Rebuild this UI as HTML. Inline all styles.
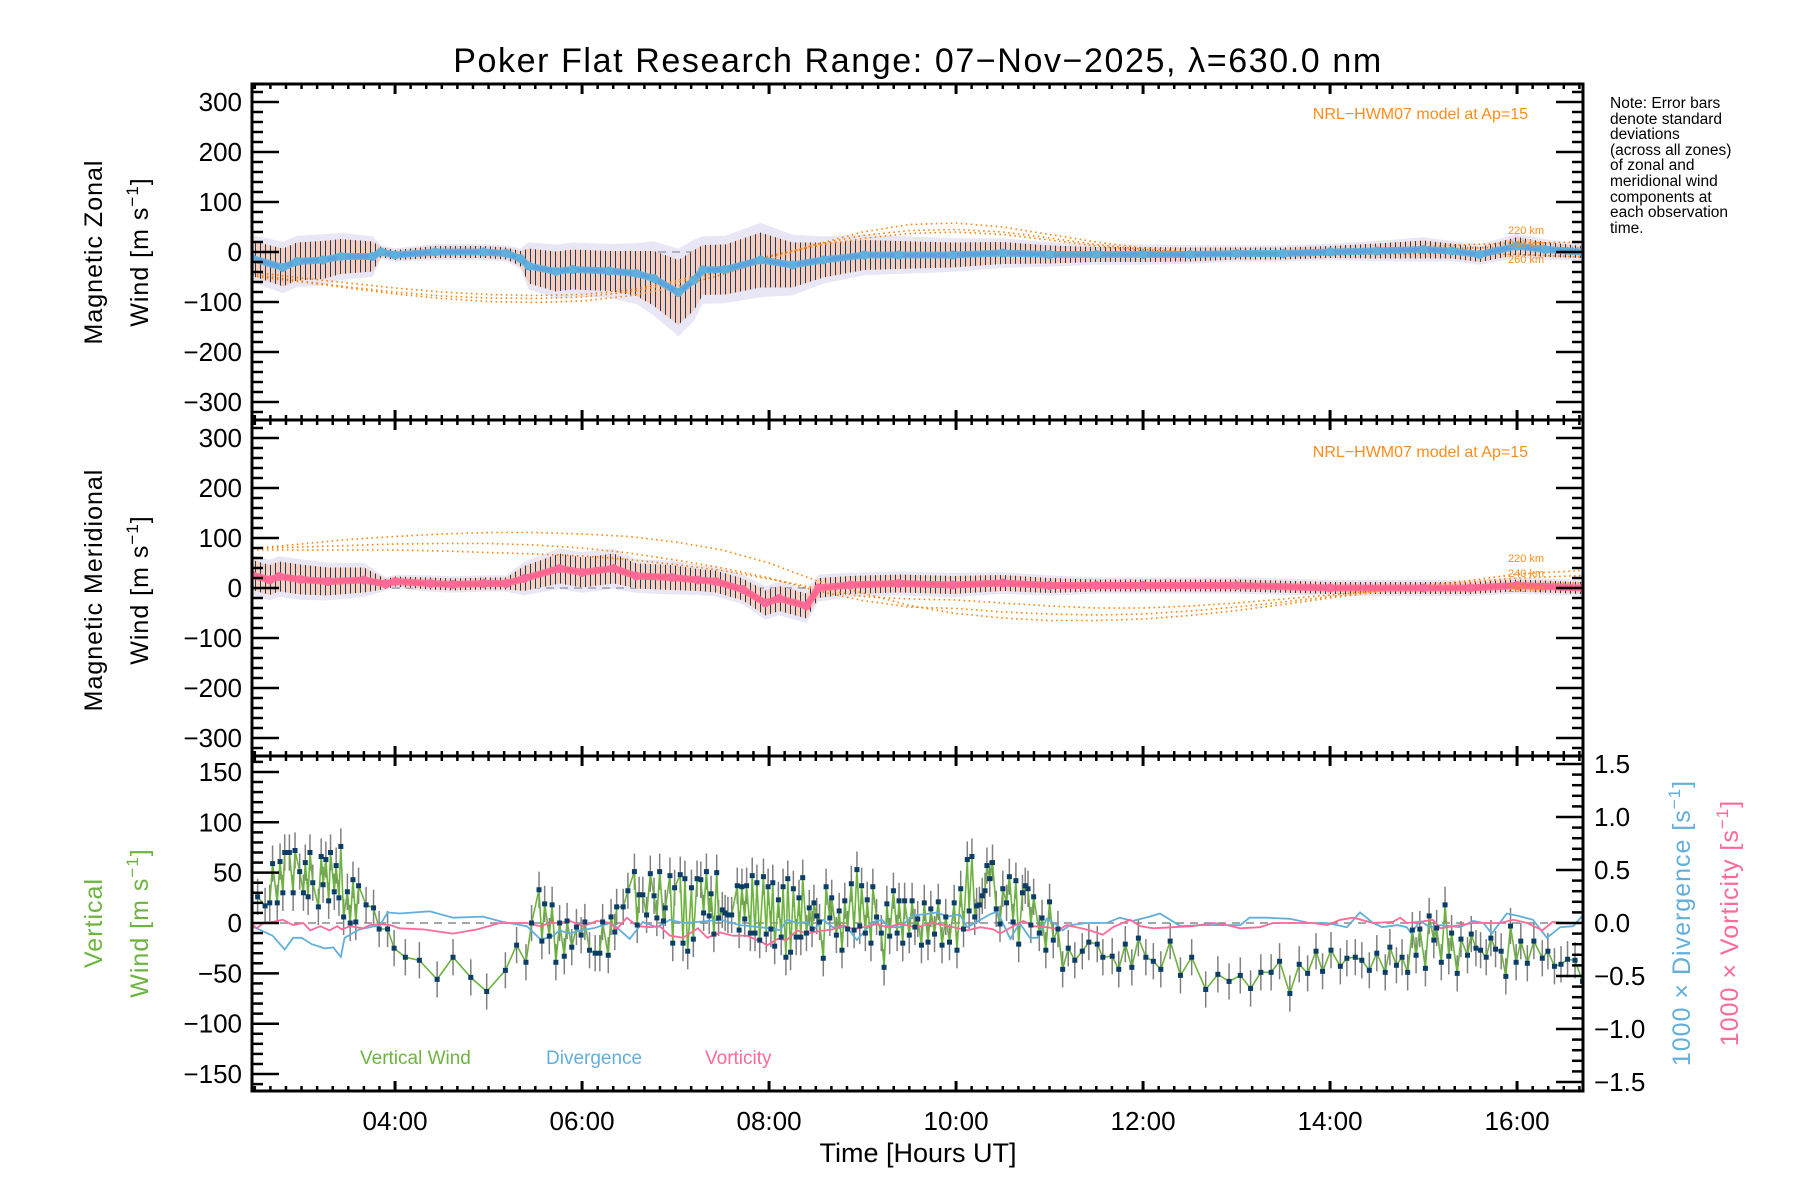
<!DOCTYPE html>
<html><head><meta charset="utf-8">
<style>
html,body{margin:0;padding:0;background:#fff;}
svg{display:block;font-family:"Liberation Sans",sans-serif;}
</style></head>
<body>
<svg id="chart" width="1800" height="1200" viewBox="0 0 1800 1200" xmlns="http://www.w3.org/2000/svg">
<defs>
<pattern id="hatchZ" patternUnits="userSpaceOnUse" width="5" height="10">
<rect width="5" height="10" fill="#f8cdbb"/><rect x="0" width="1" height="10" fill="#1a3f66"/>
</pattern>
<pattern id="hatchM" patternUnits="userSpaceOnUse" width="5" height="10">
<rect width="5" height="10" fill="#f9d0be"/><rect x="0" width="1" height="10" fill="#1a3f66"/>
</pattern>
<clipPath id="clip1"><rect x="252" y="84" width="1331" height="336"/></clipPath>
<clipPath id="clip2"><rect x="252" y="420" width="1331" height="336"/></clipPath>
<clipPath id="clip3"><rect x="252" y="756" width="1331" height="335"/></clipPath>
</defs>
<text x="918" y="72" font-size="34" letter-spacing="1.6" text-anchor="middle">Poker Flat Research Range: 07−Nov−2025, λ=630.0 nm</text>
<g id="g1" clip-path="url(#clip1)"></g>
<g id="g2" clip-path="url(#clip2)"></g>
<g id="g3" clip-path="url(#clip3)"></g>
<g id="axes"></g>
<g font-size="25">
<text transform="translate(102,252) rotate(-90)" text-anchor="middle" letter-spacing="1">Magnetic Zonal</text>
<text transform="translate(148,252) rotate(-90)" text-anchor="middle" letter-spacing="1">Wind [m s<tspan dy="-10" font-size="17">−1</tspan><tspan dy="10">]</tspan></text>
</g>
<g font-size="25">
<text transform="translate(102,590) rotate(-90)" text-anchor="middle" letter-spacing="1">Magnetic Meridional</text>
<text transform="translate(148,590) rotate(-90)" text-anchor="middle" letter-spacing="1">Wind [m s<tspan dy="-10" font-size="17">−1</tspan><tspan dy="10">]</tspan></text>
</g>
<g font-size="25" fill="#6db33f">
<text transform="translate(102,923) rotate(-90)" text-anchor="middle" letter-spacing="1">Vertical</text>
<text transform="translate(148,923) rotate(-90)" text-anchor="middle" letter-spacing="1">Wind [m s<tspan dy="-10" font-size="17">−1</tspan><tspan dy="10">]</tspan></text>
</g>
<text transform="translate(1690,923) rotate(-90)" text-anchor="middle" font-size="25" letter-spacing="1" fill="#63afdc">1000 × Divergence [s<tspan dy="-10" font-size="17">−1</tspan><tspan dy="10">]</tspan></text>
<text transform="translate(1738,923) rotate(-90)" text-anchor="middle" font-size="25" letter-spacing="1" fill="#ff6a98">1000 × Vorticity [s<tspan dy="-10" font-size="17">−1</tspan><tspan dy="10">]</tspan></text>
<g font-size="15.5">
<text x="1610" y="108">Note: Error bars</text>
<text x="1610" y="124">denote standard</text>
<text x="1610" y="139">deviations</text>
<text x="1610" y="155">(across all zones)</text>
<text x="1610" y="170">of zonal and</text>
<text x="1610" y="186">meridional wind</text>
<text x="1610" y="202">components at</text>
<text x="1610" y="217">each observation</text>
<text x="1610" y="233">time.</text>
</g>
<text x="1528" y="119" font-size="16" fill="#ff8c1a" text-anchor="end">NRL−HWM07 model at Ap=15</text>
<text x="1528" y="457" font-size="16" fill="#ff8c1a" text-anchor="end">NRL−HWM07 model at Ap=15</text>
<g font-size="11" fill="#ff8c1a">
<text x="1508" y="234">220 km</text><text x="1508" y="248">240 km</text><text x="1508" y="263">260 km</text>
</g>
<g font-size="11" fill="#ff8c1a">
<text x="1508" y="562">220 km</text><text x="1508" y="577">240 km</text><text x="1508" y="592">260 km</text>
</g>
<text x="360" y="1064" font-size="19" fill="#6db33f">Vertical Wind</text>
<text x="546" y="1064" font-size="19" fill="#63afdc">Divergence</text>
<text x="705" y="1064" font-size="19" fill="#ff6a98">Vorticity</text>
<text x="918" y="1162" font-size="27" text-anchor="middle">Time [Hours UT]</text>
</svg>
<script>
// ---- data ----
const xTickHours = [4,6,8,10,12,14,16];
const xTickLabels = ["04:00","06:00","08:00","10:00","12:00","14:00","16:00"];
const windTicks = [300,200,100,0,-100,-200,-300];
const vertTicks = [150,100,50,0,-50,-100,-150];
const rightTicks = [1.5,1.0,0.5,0.0,-0.5,-1.0,-1.5];

const zonalHours = [2.47,2.80,2.95,3.23,3.42,3.76,3.85,4.00,4.43,4.95,5.19,5.34,5.43,5.72,5.90,6.29,6.58,6.77,7.03,7.20,7.29,7.53,7.91,8.25,8.58,9.02,9.39,9.96,10.5,11.0,11.5,12.0,12.5,13.0,13.5,14.0,14.5,15.0,15.3,15.6,16.0,16.3,16.7];
const zonalMean = [-13,-31,-19,-16,-9,-9,0,-6,0,0,-3,-13,-28,-39,-35,-38,-43,-53,-81,-56,-36,-35,-16,-26,-16,-6,-6,-6,-2,-5,-5,-5,-5,-3,-3,0,2,5,2,-5,12,5,0];
const zonalStd = [35,38,38,38,35,30,10,10,12,12,12,15,35,40,40,40,45,55,65,60,50,50,55,45,35,30,28,25,22,18,15,15,14,12,12,12,15,18,15,15,18,15,12];

const merHours = [2.47,2.66,2.76,2.99,3.28,3.67,3.90,4.00,4.38,4.62,4.95,5.19,5.38,5.76,6.00,6.34,6.58,6.96,7.24,7.43,7.72,7.96,8.11,8.40,8.53,8.87,9.39,9.96,10.5,11.0,11.5,12.0,13.0,14.0,15.0,15.5,16.0,16.7];
const merMean = [26,16,23,17,13,16,8,13,9,7,9,9,19,39,31,39,24,21,16,13,-3,-30,-21,-36,0,6,9,6,10,5,5,5,5,0,0,0,5,0];
const merStd = [30,30,30,30,28,25,10,10,12,12,12,12,25,30,30,30,25,25,22,22,22,25,25,25,20,18,18,18,16,15,12,12,12,12,12,12,12,12];

const modelHours = [2.47,3,3.5,4,4.5,5,5.5,6,6.5,7,7.5,8,8.5,9,9.5,10,10.5,11,11.5,12,12.5,13,13.5,14,14.5,15,15.5,16,16.7];
const zonalModel220 = [-48,-60,-72,-84,-93,-99,-101,-98,-88,-70,-45,-15,15,40,55,58,50,35,20,8,0,-3,-2,2,6,10,15,18,20];
const zonalModel240 = [-45,-58,-70,-80,-88,-92,-93,-90,-80,-62,-38,-10,15,33,43,45,40,28,15,5,-2,-4,-4,-1,2,5,8,10,8];
const zonalModel260 = [-40,-52,-62,-72,-80,-85,-87,-85,-76,-58,-34,-8,12,27,37,40,35,24,12,2,-5,-8,-8,-6,-4,-3,-3,-5,-10];
const merModel220 = [79,88,97,103,108,111,111,108,103,92,76,50,15,-10,-35,-51,-60,-65,-65,-62,-55,-45,-33,-20,-8,5,15,28,35];
const merModel240 = [79,82,85,88,89,89,86,80,70,56,40,20,-5,-25,-38,-41,-48,-52,-54,-52,-46,-38,-28,-17,-7,3,12,20,25];
const merModel260 = [76,76,76,76,74,71,68,64,57,47,35,18,0,-17,-22,-24,-30,-36,-40,-40,-36,-30,-22,-14,-6,0,5,9,10];

const vwHours = [2.53,2.61,2.66,2.69,2.74,2.77,2.80,2.82,2.87,2.91,2.93,2.98,3.02,3.04,3.07,3.09,3.12,3.18,3.21,3.23,3.26,3.29,3.31,3.35,3.37,3.40,3.42,3.45,3.49,3.52,3.55,3.58,3.61,3.69,3.77,3.83,3.92,3.99,4.11,4.26,4.45,4.62,4.81,4.98,5.18,5.30,5.40,5.46,5.54,5.57,5.60,5.65,5.68,5.72,5.76,5.81,5.84,5.89,5.94,5.99,6.03,6.08,6.14,6.19,6.22,6.28,6.31,6.35,6.37,6.44,6.49,6.56,6.59,6.61,6.65,6.69,6.73,6.77,6.80,6.83,6.87,6.89,6.94,6.97,6.99,7.05,7.08,7.10,7.13,7.17,7.19,7.23,7.27,7.30,7.33,7.36,7.38,7.41,7.44,7.46,7.50,7.53,7.56,7.60,7.66,7.68,7.71,7.74,7.76,7.80,7.82,7.85,7.87,7.90,7.94,7.97,7.99,8.02,8.04,8.06,8.10,8.13,8.15,8.18,8.20,8.23,8.26,8.29,8.32,8.34,8.36,8.40,8.43,8.46,8.48,8.51,8.54,8.58,8.61,8.65,8.67,8.72,8.75,8.78,8.81,8.84,8.88,8.91,8.94,8.97,8.99,9.03,9.05,9.09,9.11,9.15,9.20,9.23,9.26,9.29,9.33,9.37,9.39,9.43,9.45,9.50,9.53,9.56,9.59,9.63,9.66,9.70,9.73,9.77,9.81,9.85,9.89,9.93,9.98,10.01,10.05,10.08,10.12,10.14,10.17,10.20,10.22,10.25,10.28,10.31,10.33,10.36,10.39,10.43,10.47,10.50,10.54,10.57,10.61,10.64,10.67,10.71,10.74,10.77,10.80,10.83,10.89,10.92,10.96,11.00,11.04,11.09,11.14,11.20,11.27,11.35,11.42,11.51,11.57,11.67,11.74,11.81,11.88,11.95,12.03,12.11,12.19,12.29,12.40,12.52,12.67,12.80,12.92,13.04,13.15,13.26,13.37,13.46,13.57,13.67,13.76,13.85,13.92,14.01,14.11,14.18,14.27,14.34,14.42,14.50,14.59,14.64,14.71,14.77,14.83,14.88,14.92,14.96,15.02,15.06,15.11,15.14,15.19,15.23,15.27,15.30,15.36,15.40,15.47,15.51,15.56,15.61,15.67,15.72,15.77,15.83,15.88,15.93,15.99,16.04,16.11,16.18,16.27,16.33,16.40,16.47,16.54,16.62,16.70];
const vwValues = [26,17,20,59,20,61,30,70,70,30,72,51,30,60,26,70,40,16,66,38,63,22,70,31,57,25,76,6,31,0,43,1,37,18,15,-6,-6,-25,-34,-37,-56,-34,-54,-68,-47,-22,-39,0,33,-18,19,-13,18,-39,0,-33,2,-24,-4,-12,1,-27,-30,-30,1,-32,6,-9,16,16,32,51,-2,28,28,8,49,27,5,51,2,15,47,-20,35,48,-20,44,-28,35,-16,44,43,10,51,7,29,-11,50,5,13,10,8,8,37,-7,36,4,37,-10,47,-10,40,-17,46,-11,36,-6,40,-23,23,-14,36,-34,44,-29,34,-14,25,-14,45,-10,15,-6,20,7,1,-35,36,5,25,-12,12,-27,22,-6,39,-7,53,-3,37,-10,23,-20,36,6,-10,-44,19,-13,32,-10,22,-20,22,-12,22,-4,4,-22,20,-19,14,-11,21,-22,6,-19,20,-27,34,-6,63,12,66,6,17,18,27,32,57,44,60,14,-1,34,20,46,1,42,-21,30,37,34,-2,26,-10,5,-27,21,-17,-6,-46,-25,-37,-28,-19,-21,-34,-33,-46,-21,-44,-15,-34,-38,-46,-18,-52,-34,-66,-51,-58,-52,-65,-49,-49,-38,-70,-41,-50,-28,-48,-27,-43,-35,-34,-37,-47,-30,-49,-24,-42,-34,-49,-7,-32,-6,-45,7,-17,-5,-39,18,-33,-10,-50,-16,-32,-11,-25,-27,-34,-15,-26,-28,-53,-3,-39,-18,-40,-18,-35,-28,-43,-41,-36,-37,-58];
const vwError = 18;

const divHours = [2.47,2.69,2.82,2.91,3.00,3.11,3.25,3.34,3.42,3.46,3.62,3.73,3.84,3.92,4.05,4.37,4.62,4.94,5.15,5.41,5.55,5.66,5.76,5.87,5.98,6.12,6.30,6.37,6.51,6.65,6.80,6.94,7.08,7.24,7.48,7.69,7.90,8.01,8.12,8.19,8.30,8.41,8.47,8.58,8.68,8.83,8.94,9.05,9.11,9.21,9.29,9.40,9.54,9.72,9.80,9.90,10.04,10.12,10.26,10.36,10.44,10.50,10.58,10.68,10.79,10.87,10.97,11.08,11.14,11.22,11.40,11.61,11.75,11.89,12.07,12.18,12.40,12.61,12.82,13.04,13.14,13.32,13.57,13.78,13.97,14.18,14.32,14.46,14.56,14.72,14.82,14.87,14.96,15.07,15.18,15.39,15.53,15.64,15.73,15.89,16.00,16.17,16.32,16.46,16.60,16.70];
const divValues = [-0.03,-0.12,-0.25,-0.14,-0.14,-0.20,-0.24,-0.23,-0.32,-0.14,-0.06,-0.04,-0.02,0.10,0.09,0.11,0.05,0.06,0.01,-0.03,-0.15,-0.14,-0.07,-0.10,-0.07,-0.05,0.00,-0.04,-0.15,0.01,-0.04,0.03,0.00,0.01,0.03,-0.02,-0.04,-0.05,-0.07,0.03,0.00,0.01,-0.07,0.03,-0.04,-0.04,-0.16,-0.05,0.01,0.03,-0.04,-0.04,0.07,0.09,0.10,0.06,0.08,-0.04,0.03,0.08,0.11,0.00,-0.15,0.00,-0.14,-0.14,0.04,-0.02,-0.07,-0.02,0.00,0.00,0.05,0.02,0.06,0.09,-0.03,-0.02,-0.02,-0.02,0.05,0.05,0.04,0.00,0.00,-0.04,0.10,0.00,-0.04,-0.02,-0.04,-0.10,0.02,-0.04,-0.02,-0.04,0.02,0.00,-0.10,0.09,0.07,0.03,-0.14,-0.04,-0.03,0.07];

const vorHours = [2.47,2.52,2.59,2.69,2.80,2.91,3.02,3.09,3.20,3.30,3.38,3.43,3.52,3.66,3.73,3.84,3.95,4.05,4.30,4.62,4.88,5.12,5.41,5.55,5.66,5.76,5.87,6.01,6.16,6.30,6.37,6.48,6.59,6.73,6.83,6.94,7.08,7.24,7.34,7.48,7.61,7.76,7.90,7.98,8.09,8.19,8.30,8.41,8.51,8.68,8.79,8.90,9.05,9.15,9.26,9.40,9.58,9.75,9.97,10.12,10.26,10.40,10.47,10.61,10.72,10.82,10.97,11.11,11.18,11.29,11.43,11.57,11.68,11.86,11.97,12.11,12.32,12.53,12.75,12.90,13.04,13.25,13.39,13.60,13.82,13.97,14.11,14.25,14.46,14.67,14.75,14.82,14.96,15.10,15.18,15.39,15.53,15.68,15.82,15.96,16.11,16.27,16.38,16.53,16.70];
const vorValues = [-0.01,-0.05,0.00,0.01,0.03,-0.02,0.00,-0.07,-0.03,-0.07,-0.03,-0.06,-0.03,-0.05,-0.02,-0.01,-0.02,-0.05,-0.06,-0.10,-0.06,0.00,0.00,-0.03,0.00,0.00,0.02,-0.03,0.02,0.00,-0.06,0.05,-0.03,-0.04,-0.03,-0.12,-0.14,-0.05,-0.14,-0.09,-0.12,-0.12,-0.17,-0.21,-0.15,-0.16,-0.07,-0.10,-0.08,-0.06,-0.02,-0.06,-0.03,-0.01,-0.04,-0.01,-0.04,0.00,-0.04,-0.07,-0.04,-0.06,-0.10,-0.03,0.02,-0.03,-0.04,-0.06,-0.02,-0.04,-0.07,-0.11,-0.04,0.03,-0.03,-0.05,-0.04,-0.03,0.00,-0.02,-0.05,-0.04,0.00,0.00,0.00,-0.02,0.03,0.05,0.00,0.01,0.05,0.00,0.01,0.03,-0.05,-0.02,0.00,0.00,0.00,0.03,0.00,-0.07,0.01,0.00,0.00];

// ---- scales ----
const X0=252, X1=1583, H0=2.47, PXH=93.5;
function xS(h){return X0+(h-H0)*PXH;}
function y1(v){return 252-v*0.5;}
function y2(v){return 588-v*0.5;}
function y3(v){return 923-v*1.007;}
function yR(d){return 923-d*106;}
const NS="http://www.w3.org/2000/svg";
function mk(tag,attrs,parent){const e=document.createElementNS(NS,tag);for(const k in attrs)e.setAttribute(k,attrs[k]);parent.appendChild(e);return e;}
function pts(hs,vs,yf){return hs.map((h,i)=>xS(h).toFixed(1)+","+yf(vs[i]).toFixed(1)).join(" ");}

function windPanel(g,yf,hours,mean,std,m1,m2,m3,fillId,lineCol,dotCol,name){
  const z=mk('line',{x1:X0,x2:X1,y1:yf(0),y2:yf(0),stroke:'#888','stroke-width':1.5,'stroke-dasharray':'8,6'},g);
  
  
  const up2=hours.map((h,i)=>xS(h).toFixed(1)+","+yf(mean[i]+std[i]*1.35).toFixed(1));
  const lo2=hours.map((h,i)=>xS(h).toFixed(1)+","+yf(mean[i]-std[i]*1.35).toFixed(1)).reverse();
  const sc=mk('polygon',{points:up2.concat(lo2).join(" "),fill:'#c9c3e8',opacity:0.4},g);
  
  
  const up=hours.map((h,i)=>xS(h).toFixed(1)+","+yf(mean[i]+std[i]).toFixed(1));
  const lo=hours.map((h,i)=>xS(h).toFixed(1)+","+yf(mean[i]-std[i]).toFixed(1)).reverse();
  const band=mk('polygon',{points:up.concat(lo).join(" "),fill:'url(#'+fillId+')'},g);
  
  
  [m1,m2,m3].forEach((m,k)=>{
    const l=mk('polyline',{points:pts(modelHours,m,yf),fill:'none',stroke:'#ff8000','stroke-width':1.6,'stroke-dasharray':'1.5,3.5'},g);
    
    
  });
  const ml=mk('polyline',{points:pts(hours,mean,yf),fill:'none',stroke:lineCol,'stroke-width':4},g);
  
  
  const ml2=mk('polyline',{points:pts(hours,mean,yf),fill:'none',stroke:dotCol,'stroke-width':7,opacity:0.9},g);
  
  
  hours.forEach((h,i)=>{
    const c=mk('circle',{cx:xS(h),cy:yf(mean[i]),r:4.5,fill:dotCol},g);
    
    
  });
}
windPanel(document.getElementById('g1'),y1,zonalHours,zonalMean,zonalStd,zonalModel220,zonalModel240,zonalModel260,'hatchZ','#2b2bff','#5fb0db','zonal');
windPanel(document.getElementById('g2'),y2,merHours,merMean,merStd,merModel220,merModel240,merModel260,'hatchM','#ff3030','#ff6a98','meridional');

(function(){
  const g=document.getElementById('g3');
  const z=mk('line',{x1:X0,x2:X1,y1:y3(0),y2:y3(0),stroke:'#888','stroke-width':1.5,'stroke-dasharray':'8,6'},g);
  
  
  vwHours.forEach((h,i)=>{
    const e=mk('line',{x1:xS(h),x2:xS(h),y1:y3(vwValues[i]+vwError),y2:y3(vwValues[i]-vwError),stroke:'#808080','stroke-width':1.5},g);
    
    
  });
  const vw=mk('polyline',{points:pts(vwHours,vwValues,y3),fill:'none',stroke:'#6db33f','stroke-width':1.6},g);
  
  
  const dv=mk('polyline',{points:pts(divHours,divValues,yR),fill:'none',stroke:'#63afdc','stroke-width':1.8},g);
  
  
  const vo=mk('polyline',{points:pts(vorHours,vorValues,yR),fill:'none',stroke:'#ff6a98','stroke-width':1.8},g);
  
  
  vwHours.forEach((h,i)=>{
    const p=mk('rect',{x:xS(h)-2.5,y:y3(vwValues[i])-2.5,width:5,height:5,fill:'#0b3d66'},g);
    
    
  });
})();

(function(){
  const a=document.getElementById('axes');
  const panels=[[84,420],[420,756],[756,1091]];
  panels.forEach((p,k)=>{
    const r=mk('rect',{x:X0,y:p[0],width:X1-X0,height:p[1]-p[0],fill:'none',stroke:'#000','stroke-width':3},a);
    
    
    for(let m=0;m<=6*15;m++){
      const h=2.5+m/6; if(h>16.7) break;
      const x=xS(h); const major=Math.abs(h-Math.round(h))<1e-6 && Math.round(h)%2===0;
      const len=major?10:5;
      mk('line',{x1:x,x2:x,y1:p[1],y2:p[1]-len,stroke:'#000','stroke-width':major?3:2.5},a);
      mk('line',{x1:x,x2:x,y1:p[0],y2:p[0]+len,stroke:'#000','stroke-width':major?3:2.5},a);
    }
  });
  [[y1,84,420],[y2,420,756]].forEach(([yf,t,b])=>{
    for(let v=-320;v<=320;v+=20){
      const y=yf(v); if(y<t+2||y>b-2) continue;
      const major=v%100===0; const len=major?27:11;
      mk('line',{x1:X0,x2:X0+len,y1:y,y2:y,stroke:'#000','stroke-width':2.5},a);
      mk('line',{x1:X1,x2:X1-len,y1:y,y2:y,stroke:'#000','stroke-width':2.5},a);
    }
    windTicks.forEach(v=>{
      const t=mk('text',{x:242,y:yf(v)+9,'font-size':26,'text-anchor':'end'},a);
      t.textContent=(v<0?'\u2212':'')+Math.abs(v);
      
      
    });
  });
  for(let v=-160;v<=160;v+=10){
    const y=y3(v); const major=v%50===0; const len=major?27:11;
    mk('line',{x1:X0,x2:X0+len,y1:y,y2:y,stroke:'#000','stroke-width':2.5},a);
  }
  for(let i=-16;i<=16;i++){
    const d=i/10; const y=yR(d); if(y<758||y>1089) continue;
    const major=i%5===0; const len=major?27:11;
    mk('line',{x1:X1,x2:X1-len,y1:y,y2:y,stroke:'#000','stroke-width':2.5},a);
  }
  vertTicks.forEach(v=>{
    const t=mk('text',{x:242,y:y3(v)+9,'font-size':26,'text-anchor':'end'},a);
    t.textContent=(v<0?'\u2212':'')+Math.abs(v);
    
    
  });
  rightTicks.forEach(d=>{
    const t=mk('text',{x:1594,y:yR(d)+9,'font-size':26,'text-anchor':'start'},a);
    t.textContent=(d<0?'\u2212':'')+Math.abs(d).toFixed(1);
    
    
  });
  xTickHours.forEach((h,i)=>{
    const t=mk('text',{x:xS(h),y:1130,'font-size':26,'text-anchor':'middle'},a);
    t.textContent=xTickLabels[i];
    
    
  });
})();
</script>
</body></html>
